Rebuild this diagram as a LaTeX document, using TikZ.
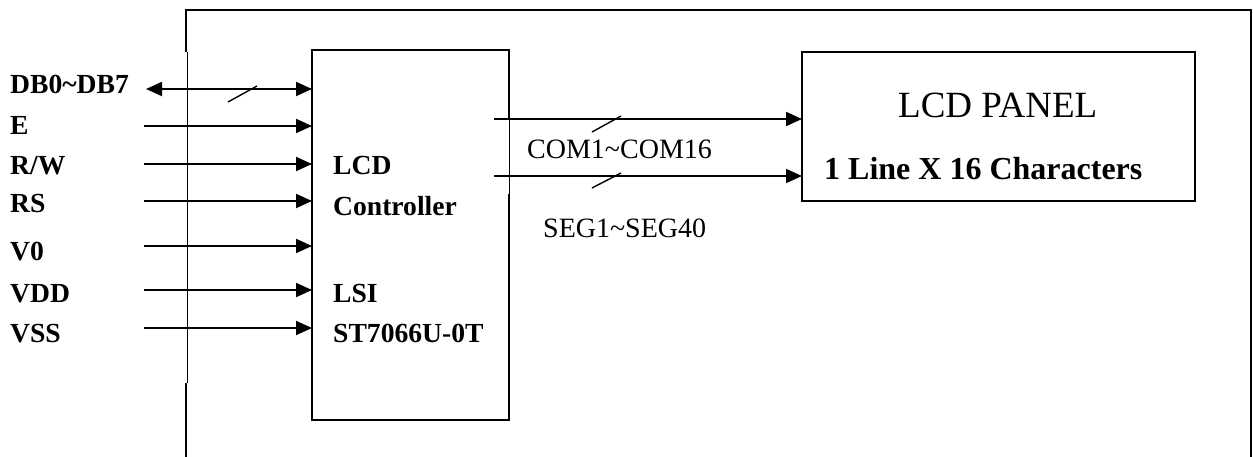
\documentclass[tikz,border=0pt]{standalone}
\usepackage{fontspec}
\setmainfont{Liberation Serif}
\usetikzlibrary{arrows.meta}
\begin{document}
\begin{tikzpicture}[x=1pt,y=-1pt,
  thickline/.style={line width=1.9pt},
  thinline/.style={line width=0.8pt},
  sig/.style={line width=1.9pt,-{Triangle[length=16pt,width=14pt]}},
  bus/.style={line width=1.9pt,{Triangle[length=16pt,width=14pt]}-{Triangle[length=16pt,width=14pt]}},
  slash/.style={line width=1.4pt},
  lbl/.style={anchor=base west,inner sep=0pt,font=\fontsize{27.6}{30}\selectfont\bfseries},
  lbln/.style={anchor=base west,inner sep=0pt,font=\fontsize{28}{30}\selectfont},
  box/.style={anchor=north west,inner sep=0pt,outer sep=0pt,minimum width=#1}]
\useasboundingbox (0,0) rectangle (1253,457);
% outer frame
\draw[thickline] (186,52) -- (186,10) -- (1251,10) -- (1251,457);
\draw[thinline] (187,52) -- (187,383);
\draw[thickline] (186,383) -- (186,457);
% controller box
\node[box=197pt,minimum height=370pt] (ctrl) at (312,50) {};
% panel
\node[box=393pt,minimum height=149pt,draw,line width=1.9pt] (panel) at (802,52) {};
% output arrow start points
\coordinate (o1) at (494,119);
\coordinate (o2) at (494,176);
\coordinate (c1) at (ctrl.east |- 0,119);
\coordinate (c2) at (ctrl.east |- 0,194);
\draw[thickline] (c1) -- (ctrl.north east) -- (ctrl.north west) -- (ctrl.south west) -- (ctrl.south east) -- (c2);
\draw[thinline] (c1) -- (c2);
% controller texts
\node[lbl] (t1) at (333,175) {LCD};
\node[lbl] (t2) at (333,215) {Controller};
\node[lbl] (t3) at (333,302) {LSI};
\node[lbl] (t4) at (333,342) {ST7066U-0T};
% input signals
\node[lbl] (l1) at (10,94) {DB0\char`~DB7};
\node[lbl] (l2) at (10,135) {E};
\node[lbl] (l3) at (10,175) {R/W};
\node[lbl] (l4) at (10,213) {RS};
\node[lbl] (l5) at (10,260) {V0};
\node[lbl] (l6) at (10,302) {VDD};
\node[lbl] (l7) at (10,342) {VSS};
\coordinate (s1) at (146,89);
\coordinate (s2) at (144,126);
\coordinate (s3) at (144,164);
\coordinate (s4) at (144,201);
\coordinate (s5) at (144,246);
\coordinate (s6) at (144,290);
\coordinate (s7) at (144,328);
\draw[bus] (s1) -- (s1 -| ctrl.west);
\foreach \i in {2,...,7} \draw[sig] (s\i) -- (s\i -| ctrl.west);
\draw[slash] (228,102) -- (257,86);
% outputs
\draw[sig] (o1) -- (o1 -| panel.west);
\draw[sig] (o2) -- (o2 -| panel.west);
\draw[slash] (592,132) -- (621,116);
\draw[slash] (592,188) -- (621,173);
\node[lbln] (com) at (527,159) {COM1\char`~COM16};
\node[lbln] (seg) at (543,237) {SEG1\char`~SEG40};
% panel texts
\node[anchor=base west,inner sep=0pt,font=\fontsize{37}{40}\selectfont] (p1) at (898,118) {LCD PANEL};
\node[anchor=base west,inner sep=0pt,font=\fontsize{32}{36}\selectfont\bfseries] (p2) at (824,180) {1 Line X 16 Characters};
\end{tikzpicture}
\end{document}
